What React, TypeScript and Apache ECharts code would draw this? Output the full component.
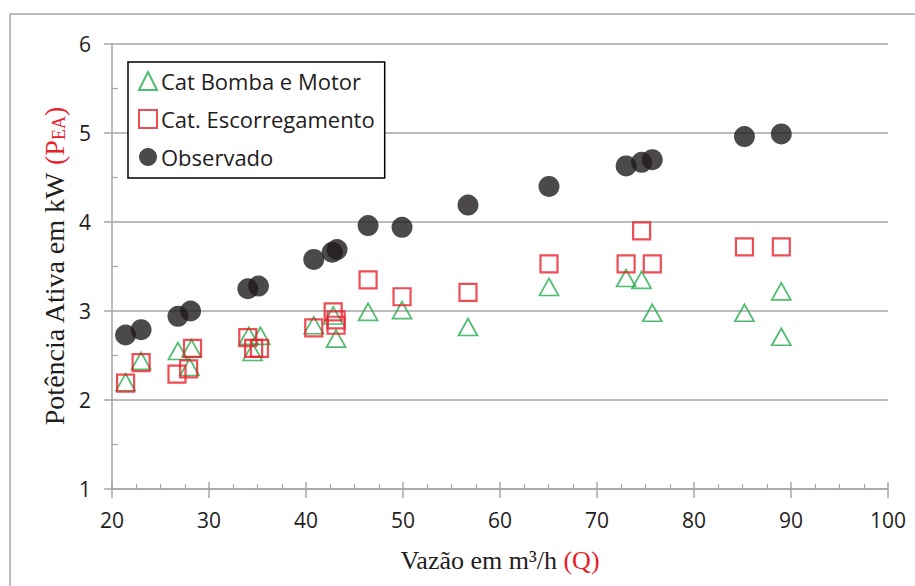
import React, { useEffect, useRef } from "react";
import * as echarts from "echarts";

// Cat Bomba e Motor (triangles)
const bombaX = [21.4, 23.0, 26.8, 28.2, 28.0, 34.1, 35.3, 34.5, 40.8, 42.8, 43.1, 46.4, 49.9, 56.7, 65.05, 73.0, 74.6, 75.7, 85.2, 89.0, 89.0];
const bombaY = [2.20, 2.44, 2.55, 2.58, 2.37, 2.72, 2.72, 2.54, 2.84, 2.95, 2.69, 2.99, 3.01, 2.82, 3.27, 3.37, 3.35, 2.98, 2.98, 3.22, 2.71];

// Cat. Escorregamento (squares)
const escX = [21.4, 23.0, 26.7, 27.9, 28.3, 34.0, 34.6, 35.2, 40.8, 42.8, 43.1, 43.1, 46.4, 49.9, 56.7, 65.05, 73.0, 74.6, 75.7, 85.2, 89.0];
const escY = [2.19, 2.42, 2.29, 2.35, 2.58, 2.70, 2.58, 2.58, 2.81, 2.99, 2.90, 2.84, 3.35, 3.16, 3.21, 3.53, 3.53, 3.90, 3.53, 3.72, 3.72];

// Observado (filled circles)
const obsX = [21.4, 23.0, 26.8, 28.1, 34.0, 35.1, 40.8, 42.7, 43.2, 46.4, 49.9, 56.7, 65.05, 73.0, 74.6, 75.7, 85.2, 89.0];
const obsY = [2.73, 2.79, 2.94, 3.00, 3.25, 3.28, 3.58, 3.66, 3.69, 3.96, 3.94, 4.19, 4.40, 4.63, 4.67, 4.70, 4.96, 4.99];

const seriesNames = ["Cat Bomba e Motor", "Cat. Escorregamento", "Observado"];
const xTitle = "Vazão em m³/h ";
const yTitle = "Potência Ativa em kW ";

const zip = (xs: number[], ys: number[]) => xs.map((x, i) => [x, ys[i]]);

const GRID_GRAY = "#a6a6a6";
const TEXT = "#1f1c1d";
const GREEN = "#22ad4b";
const RED = "#e8202a";

export default function App() {
  const ref = useRef<HTMLDivElement>(null);
  useEffect(() => {
    if (!ref.current) return;
    const chart = echarts.init(ref.current, undefined, { renderer: "svg" });
    const tickLabel = { color: TEXT, fontFamily: "Open Sans", fontSize: 21 };
    chart.setOption({
      animation: false,
      backgroundColor: "#ffffff",
      graphic: [
        {
          type: "rect",
          z: -1,
          shape: { x: 10, y: 14, width: 1000, height: 1000 },
          style: { fill: "none", stroke: GRID_GRAY, lineWidth: 1.5 },
        },
      ],
      grid: { left: 112, top: 44, right: 27, bottom: 97 },
      legend: {
        orient: "vertical",
        left: 128,
        top: 62,
        backgroundColor: "#fff",
        borderColor: "#000",
        borderWidth: 1.5,
        padding: [8, 10, 10, 10],
        itemWidth: 18,
        itemHeight: 18,
        itemGap: 16,
        textStyle: { color: TEXT, fontFamily: "Open Sans", fontSize: 22, padding: [0, 0, 0, -1] },
        data: seriesNames,
      },
      xAxis: [
        {
          type: "value",
          min: 20,
          max: 100,
          interval: 10,
          position: "bottom",
          name: `{a|${xTitle}}{b|(Q)}`,
          nameLocation: "middle",
          nameGap: 58,
          nameTextStyle: {
            rich: {
              a: { fontFamily: "Liberation Serif", fontSize: 26, color: TEXT },
              b: { fontFamily: "Liberation Serif", fontSize: 26, color: RED },
            },
          },
          axisLine: { show: true, lineStyle: { color: GRID_GRAY, width: 1.5 } },
          axisTick: { show: true, inside: false, length: 9, lineStyle: { color: GRID_GRAY, width: 1.5 } },
          axisLabel: { ...tickLabel, margin: 20 },
          splitLine: { show: false },
        },
        {
          type: "value",
          min: 20,
          max: 100,
          interval: 10,
          position: "bottom",
          axisLine: { show: false },
          axisTick: { show: true, inside: true, length: 7, lineStyle: { color: GRID_GRAY, width: 1.5 } },
          minorTick: { show: true, splitNumber: 4, length: 5, lineStyle: { color: GRID_GRAY, width: 1.2 } },
          axisLabel: { show: false },
          splitLine: { show: false },
        },
      ],
      yAxis: [
        {
          type: "value",
          min: 1,
          max: 6,
          interval: 1,
          position: "left",
          name: `{a|${yTitle}}{b|(P}{c|EA}{b|)}`,
          nameLocation: "middle",
          nameGap: 44,
          nameTextStyle: {
            rich: {
              a: { fontFamily: "Liberation Serif", fontSize: 28, color: TEXT },
              b: { fontFamily: "Liberation Serif", fontSize: 28, color: RED },
              c: { fontFamily: "Liberation Serif", fontSize: 18, color: RED, verticalAlign: "bottom", padding: [10, 0, 0, 0] },
            },
          },
          axisLine: { show: true, lineStyle: { color: GRID_GRAY, width: 1.5 } },
          axisTick: { show: true, inside: false, length: 8, lineStyle: { color: GRID_GRAY, width: 1.5 } },
          axisLabel: { ...tickLabel, margin: 21 },
          splitLine: { show: true, lineStyle: { color: GRID_GRAY, width: 1.5 } },
        },
        {
          type: "value",
          min: 1,
          max: 6,
          interval: 1,
          position: "left",
          axisLine: { show: false },
          axisTick: { show: false, inside: true },
          minorTick: { show: true, splitNumber: 2, length: 6, lineStyle: { color: GRID_GRAY, width: 1.2 } },
          axisLabel: { show: false },
          splitLine: { show: false },
        },
      ],
      series: [
        {
          name: seriesNames[0],
          type: "scatter",
          symbol: "triangle",
          symbolSize: [19, 17],
          itemStyle: { color: "rgba(255,255,255,0)", borderColor: GREEN, borderWidth: 1.7 },
          data: zip(bombaX, bombaY),
        },
        {
          name: seriesNames[1],
          type: "scatter",
          symbol: "rect",
          symbolSize: 17,
          itemStyle: { color: "rgba(255,255,255,0)", borderColor: RED, borderWidth: 2.2 },
          data: zip(escX, escY),
        },
        {
          name: seriesNames[2],
          type: "scatter",
          symbol: "circle",
          symbolSize: 21,
          itemStyle: { color: TEXT },
          data: zip(obsX, obsY),
        },
      ],
    });
    return () => chart.dispose();
  }, []);
  return (
    <div
      ref={ref}
      style={{ position: "fixed", left: 0, top: 0, width: 915, height: 586, background: "#fff" }}
    />
  );
}
